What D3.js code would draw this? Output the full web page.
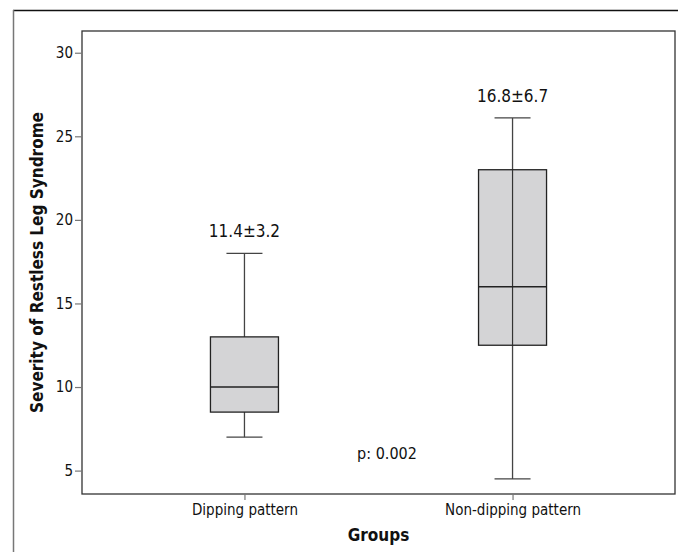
<!DOCTYPE html>
<html>
<head>
<meta charset="utf-8">
<script src="https://cdn.jsdelivr.net/npm/d3@7"></script>
<style>
  body { margin: 0; background: #fff; }
  svg text { font-family: "DejaVu Sans Condensed", "Liberation Sans Narrow", "Roboto", sans-serif; fill: #111; }
</style>
</head>
<body>
<svg id="chart" width="678" height="552"></svg>
<script>
// data
var groups = ["Dipping pattern", "Non-dipping pattern"];
var whiskerLow = [7, 4.5];
var q1 = [8.5, 12.5];
var medians = [10, 16];
var q3 = [13, 23];
var whiskerHigh = [18, 26.1];
var meanLabels = ["11.4\u00b13.2", "16.8\u00b16.7"];
var yTicks = [5, 10, 15, 20, 25, 30];
var pText = "p: 0.002";

var svg = d3.select("#chart");

// outer frame (only top + left show in the picture)
svg.append("line").attr("x1", 13).attr("x2", 678).attr("y1", 10.5).attr("y2", 10.5)
  .attr("stroke", "#111").attr("stroke-width", 1.5);
svg.append("line").attr("x1", 13.5).attr("x2", 13.5).attr("y1", 10).attr("y2", 552)
  .attr("stroke", "#777").attr("stroke-width", 1.5);

var m = {left: 82, right: 675, top: 31, bottom: 494};

var y = d3.scaleLinear().domain([3.6, 31.3]).range([m.bottom, m.top]);
var x = d3.scalePoint().domain(groups).range([m.left, m.right]).padding(0.606);
var bw = 68;

var g = svg.append("g");

// plot border
g.append("rect").attr("x", m.left).attr("y", m.top)
  .attr("width", m.right - m.left).attr("height", m.bottom - m.top)
  .attr("fill", "none").attr("stroke", "#333").attr("stroke-width", 1.3);

// y axis
var yAxis = d3.axisLeft(y).tickValues(yTicks).tickSize(7).tickPadding(2).tickSizeOuter(0);
var ya = g.append("g").attr("transform", "translate(" + m.left + ",0)").call(yAxis);
ya.select(".domain").remove();
ya.selectAll(".tick line").attr("stroke", "#777").attr("stroke-width", 1.2);
ya.selectAll(".tick text").attr("font-size", 15).attr("fill", "#111")
  .attr("font-family", "DejaVu Sans Condensed, sans-serif");

// x axis
var xAxis = d3.axisBottom(x).tickSize(6).tickPadding(4).tickSizeOuter(0);
var xa = g.append("g").attr("transform", "translate(0," + m.bottom + ")").call(xAxis);
xa.select(".domain").remove();
xa.selectAll(".tick line").attr("stroke", "#777").attr("stroke-width", 1.2);
xa.selectAll(".tick text").attr("font-size", 15).attr("fill", "#111")
  .attr("font-family", "DejaVu Sans Condensed, sans-serif");

// boxes
var boxes = g.selectAll("g.box").data(groups).enter().append("g").attr("class", "box");

// whisker stem, drawn under the box
boxes.append("line")
  .attr("x1", function(d) { return x(d); }).attr("x2", function(d) { return x(d); })
  .attr("y1", function(d, i) { return y(whiskerLow[i]); })
  .attr("y2", function(d, i) { return y(whiskerHigh[i]); })
  .attr("stroke", "#444").attr("stroke-width", 1.3);

boxes.append("rect")
  .attr("x", function(d) { return x(d) - bw / 2; })
  .attr("width", bw)
  .attr("y", function(d, i) { return y(q3[i]); })
  .attr("height", function(d, i) { return y(q1[i]) - y(q3[i]); })
  .attr("fill", "#d4d4d6").attr("stroke", "#222").attr("stroke-width", 1.3);

// the non-dipping stem shows through its box
boxes.filter(function(d, i) { return i == 1; }).append("line")
  .attr("x1", function(d) { return x(d); }).attr("x2", function(d) { return x(d); })
  .attr("y1", function(d) { return y(q1[1]); })
  .attr("y2", function(d) { return y(q3[1]); })
  .attr("stroke", "#333").attr("stroke-width", 1.2);

// medians
boxes.append("line")
  .attr("x1", function(d) { return x(d) - bw / 2; }).attr("x2", function(d) { return x(d) + bw / 2; })
  .attr("y1", function(d, i) { return y(medians[i]); })
  .attr("y2", function(d, i) { return y(medians[i]); })
  .attr("stroke", "#222").attr("stroke-width", 1.4);

// caps
[whiskerLow, whiskerHigh].forEach(function(arr) {
  boxes.append("line")
    .attr("x1", function(d) { return x(d) - bw / 4 - 1; }).attr("x2", function(d) { return x(d) + bw / 4 + 1; })
    .attr("y1", function(d, i) { return y(arr[i]); })
    .attr("y2", function(d, i) { return y(arr[i]); })
    .attr("stroke", "#444").attr("stroke-width", 1.3);
});

// mean ± sd labels
boxes.append("text")
  .attr("x", function(d) { return x(d); })
  .attr("y", function(d, i) { return y(whiskerHigh[i]) - 16; })
  .attr("text-anchor", "middle").attr("font-size", 17)
  .text(function(d, i) { return meanLabels[i]; });

// p value
g.append("text").attr("x", 387).attr("y", 459).attr("text-anchor", "middle")
  .attr("font-size", 16).text(pText);

// axis titles
g.append("text").attr("x", (m.left + m.right) / 2).attr("y", 541)
  .attr("text-anchor", "middle").attr("font-size", 17).attr("font-weight", "bold")
  .text("Groups");

g.append("text")
  .attr("transform", "translate(43," + ((m.top + m.bottom) / 2) + ") rotate(-90)")
  .attr("text-anchor", "middle").attr("font-size", 17).attr("font-weight", "bold")
  .text("Severity of Restless Leg Syndrome");
</script>
</body>
</html>
